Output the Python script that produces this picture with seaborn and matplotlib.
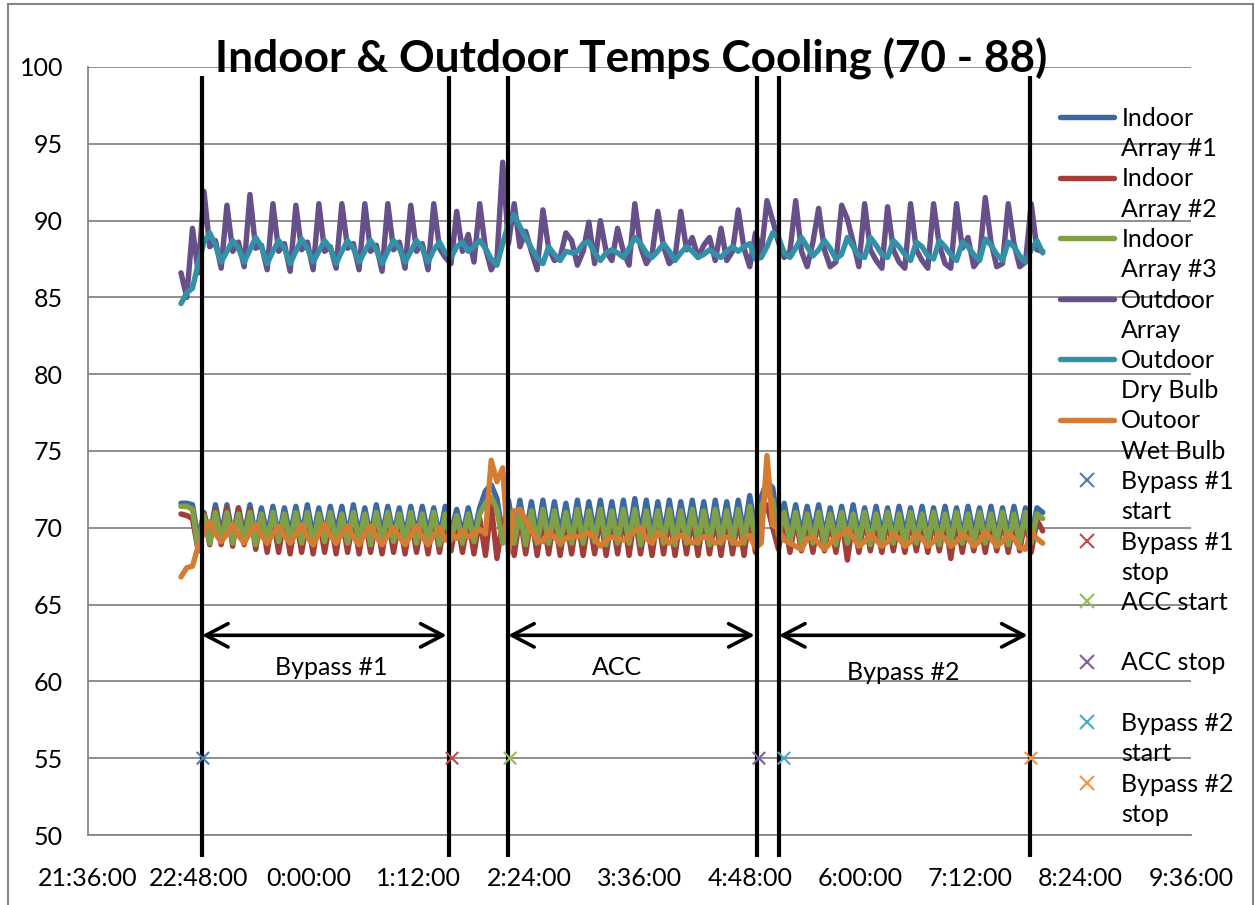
import numpy as np
import pandas as pd
import seaborn as sns
import matplotlib.pyplot as plt
from matplotlib.lines import Line2D
from matplotlib.patches import Rectangle

# readings every 3 min 45 s starting 22:36:42 (minutes after midnight, day 1)
start_min = 22 * 60 + 36.7
step_min = 3.75
n_points = 151
minutes = start_min + step_min * np.arange(n_points)

series_names = ["Indoor Array #1", "Indoor Array #2", "Indoor Array #3",
                "Outdoor Array", "Outdoor Dry Bulb", "Outoor Wet Bulb"]
series_colors = ["#3C69A4", "#A33D3A", "#7FA047", "#674F89", "#3391A7", "#D47D32"]

indoor_1 = [
    71.6, 71.6, 71.5, 69.2, 71.0, 69.4, 71.5, 69.5, 71.5, 69.4,
    71.3, 69.5, 71.5, 69.4, 71.3, 69.5, 71.4, 69.4, 71.3, 69.5,
    71.4, 69.5, 71.5, 69.4, 71.3, 69.5, 71.4, 69.6, 71.4, 69.4,
    71.5, 69.5, 71.3, 69.4, 71.5, 69.5, 71.4, 69.5, 71.3, 69.4,
    71.4, 69.5, 71.4, 69.6, 71.3, 69.4, 71.4, 69.7, 71.2, 69.5,
    71.3, 69.6, 71.3, 72.4, 72.8, 71.9, 69.5, 71.8, 69.6, 71.8,
    69.5, 71.7, 69.4, 71.8, 69.5, 71.7, 69.5, 71.6, 69.4, 71.8,
    69.5, 71.7, 69.6, 71.8, 69.5, 71.7, 69.4, 71.8, 69.5, 71.9,
    69.5, 71.8, 69.4, 71.7, 69.5, 71.8, 69.5, 71.7, 69.6, 71.8,
    69.5, 71.7, 69.4, 71.8, 69.5, 71.7, 69.5, 71.8, 69.6, 72.1,
    69.8, 72.0, 73.0, 72.6, 70.0, 71.6, 69.6, 71.5, 69.5, 71.4,
    69.6, 71.5, 69.4, 71.3, 69.5, 71.4, 69.5, 71.5, 69.4, 71.3,
    69.5, 71.4, 69.5, 71.3, 69.4, 71.4, 69.5, 71.3, 69.5, 71.4,
    69.4, 71.3, 69.5, 71.4, 69.5, 71.3, 69.4, 71.4, 69.5, 71.3,
    69.5, 71.4, 69.4, 71.3, 69.5, 71.4, 69.5, 71.3, 69.4, 71.3,
    71.0,
]
indoor_2 = [
    70.9, 70.8, 70.6, 68.5, 70.9, 68.9, 71.2, 68.9, 71.3, 68.8,
    71.3, 68.9, 71.2, 68.6, 70.8, 68.4, 70.7, 68.4, 70.6, 68.3,
    70.7, 68.4, 70.6, 68.3, 70.7, 68.4, 70.6, 68.3, 70.7, 68.4,
    70.6, 68.3, 70.7, 68.4, 70.6, 68.3, 70.7, 68.4, 70.6, 68.3,
    70.7, 68.4, 70.6, 68.3, 70.7, 68.4, 70.6, 68.5, 70.6, 68.4,
    70.6, 68.3, 70.6, 68.2, 71.5, 68.0, 70.4, 70.8, 68.2, 70.8,
    68.3, 70.8, 68.2, 70.7, 68.3, 70.8, 68.2, 70.7, 68.3, 70.8,
    68.2, 70.7, 68.3, 70.8, 68.2, 70.7, 68.3, 70.8, 68.2, 70.8,
    68.3, 70.7, 68.2, 70.8, 68.3, 70.7, 68.2, 70.8, 68.3, 70.7,
    68.2, 70.8, 68.3, 70.7, 68.2, 70.8, 68.3, 70.7, 68.2, 70.9,
    68.4, 70.9, 71.5, 70.0, 68.6, 70.6, 68.4, 70.6, 68.5, 70.5,
    68.4, 70.6, 68.5, 70.5, 68.4, 70.6, 67.9, 70.5, 68.4, 70.6,
    68.5, 70.5, 68.4, 70.6, 68.5, 70.5, 68.4, 70.6, 68.5, 70.5,
    68.4, 70.6, 68.5, 70.5, 68.0, 70.6, 68.4, 70.5, 68.5, 70.6,
    68.4, 70.5, 68.5, 70.6, 68.4, 70.5, 68.5, 70.6, 68.4, 70.5,
    69.8,
]
indoor_3 = [
    71.4, 71.4, 71.2, 68.6, 70.8, 69.0, 71.0, 69.1, 71.0, 69.0,
    70.9, 69.1, 71.0, 68.9, 70.9, 69.0, 71.0, 69.1, 70.9, 69.0,
    71.0, 69.0, 71.0, 68.9, 70.9, 69.1, 71.0, 69.0, 70.9, 69.0,
    71.0, 69.1, 70.9, 68.9, 71.0, 69.0, 71.0, 69.1, 70.9, 69.0,
    71.0, 69.0, 70.9, 69.1, 71.0, 68.9, 70.9, 69.2, 70.8, 69.0,
    70.9, 69.1, 70.9, 71.6, 72.0, 71.2, 69.0, 71.2, 69.0, 71.1,
    68.9, 71.1, 69.0, 71.2, 69.0, 71.1, 68.9, 71.0, 69.0, 71.2,
    69.0, 71.1, 69.1, 71.2, 68.9, 71.1, 69.0, 71.2, 69.0, 71.2,
    68.9, 71.1, 69.0, 71.1, 69.0, 71.2, 68.9, 71.1, 69.0, 71.2,
    69.0, 71.1, 68.9, 71.2, 69.0, 71.1, 69.0, 71.2, 69.0, 71.4,
    69.2, 71.4, 72.3, 71.8, 69.5, 71.0, 69.0, 71.0, 68.9, 70.9,
    69.0, 71.0, 69.0, 70.9, 68.9, 71.0, 69.0, 70.9, 69.0, 71.0,
    68.9, 70.9, 69.0, 71.0, 69.0, 70.9, 68.9, 71.0, 69.0, 70.9,
    69.0, 71.0, 68.9, 70.9, 69.0, 71.0, 69.0, 70.9, 68.9, 71.0,
    69.0, 70.9, 69.0, 71.0, 68.9, 70.9, 69.0, 71.0, 69.0, 70.9,
    70.6,
]
outdoor_array = [
    86.6, 85.0, 89.5, 86.6, 91.9, 88.3, 88.7, 86.9, 91.0, 88.0,
    88.6, 87.0, 91.7, 88.2, 88.4, 86.8, 91.1, 88.0, 88.5, 86.7,
    91.0, 88.1, 88.6, 86.8, 91.1, 88.0, 88.3, 86.9, 91.1, 88.2,
    88.5, 86.8, 91.1, 88.0, 88.4, 86.7, 91.1, 88.1, 88.6, 86.9,
    91.0, 88.0, 88.5, 86.8, 91.1, 88.2, 87.6, 87.2, 90.6, 88.0,
    89.1, 87.3, 91.1, 88.2, 86.8, 87.5, 93.8, 88.5, 91.1, 88.3,
    89.3, 88.0, 86.8, 90.7, 88.2, 87.4, 87.6, 89.2, 88.7, 87.1,
    88.0, 89.9, 87.2, 90.0, 88.0, 87.4, 89.5, 88.0, 87.1, 91.1,
    88.3, 87.2, 87.8, 90.6, 88.3, 87.2, 87.6, 90.6, 88.1, 88.9,
    87.6, 88.4, 88.9, 87.4, 89.5, 87.4, 88.0, 90.7, 88.2, 87.0,
    89.2, 87.8, 91.3, 90.0, 88.6, 87.6, 88.0, 91.3, 88.0, 87.0,
    88.6, 90.8, 88.1, 87.0, 87.3, 91.0, 90.1, 88.6, 87.0, 91.1,
    88.1, 87.4, 86.9, 90.9, 88.1, 87.3, 86.9, 91.1, 88.1, 87.4,
    86.9, 91.1, 88.4, 87.2, 86.9, 91.1, 88.2, 88.9, 87.0, 87.5,
    91.5, 88.6, 87.0, 87.2, 91.1, 88.5, 87.0, 87.3, 91.1, 88.1,
    88.0,
]
outdoor_dry = [
    84.6, 85.3, 85.6, 87.2, 88.6, 89.2, 88.4, 87.3, 88.0, 88.7,
    88.2, 87.3, 88.1, 88.9, 88.3, 87.2, 88.0, 88.7, 88.2, 87.2,
    88.0, 88.8, 88.2, 87.3, 88.0, 88.7, 88.2, 87.2, 88.0, 88.7,
    88.2, 87.3, 88.0, 88.7, 88.1, 87.2, 88.0, 88.7, 88.2, 87.3,
    88.0, 88.7, 88.2, 87.3, 88.1, 88.6, 87.9, 87.6, 88.3, 88.6,
    88.0, 88.3, 88.7, 88.2, 87.5, 87.1, 88.5, 89.8, 90.4, 89.6,
    88.9, 88.2, 87.6, 87.2, 88.3, 87.8, 87.4, 88.0, 87.9, 88.0,
    88.5, 88.6, 87.9, 87.4, 87.9, 88.1, 87.9, 87.6, 88.2, 88.9,
    88.5, 87.9, 87.6, 88.0, 88.5, 88.0, 87.4, 87.9, 88.3, 88.0,
    87.6, 87.8, 88.1, 87.8, 87.6, 88.0, 88.3, 88.0, 88.3, 88.5,
    87.5, 87.6, 88.3, 89.2, 88.9, 87.9, 87.6, 88.2, 88.9, 88.3,
    87.7, 88.1, 88.7, 88.2, 87.5, 87.8, 88.9, 88.3, 87.7, 87.6,
    88.9, 88.4, 87.8, 87.6, 88.7, 88.3, 87.8, 87.4, 88.6, 88.3,
    87.7, 87.5, 88.7, 88.3, 87.8, 87.4, 88.6, 88.3, 87.8, 87.4,
    88.8, 88.4, 87.8, 87.4, 88.6, 88.3, 87.7, 87.3, 88.1, 88.7,
    87.9,
]
outdoor_wet = [
    66.8, 67.4, 67.5, 68.8, 69.8, 70.4, 69.6, 69.1, 69.6, 70.2,
    69.5, 69.0, 69.7, 70.2, 69.5, 69.0, 69.6, 70.1, 69.5, 69.0,
    69.6, 70.2, 69.4, 68.9, 69.6, 70.2, 69.5, 69.0, 69.6, 70.1,
    69.4, 68.9, 69.6, 70.1, 69.4, 68.9, 69.5, 70.0, 69.4, 68.9,
    69.5, 70.1, 69.4, 68.9, 69.5, 70.0, 69.2, 69.6, 69.3, 69.8,
    69.4, 69.6, 69.9, 69.6, 74.4, 73.0, 73.9, 68.4, 71.1, 71.2,
    70.5, 69.8, 69.2, 69.1, 69.7, 69.4, 69.0, 69.3, 69.5, 69.4,
    69.5, 69.7, 69.3, 68.8, 69.2, 69.4, 69.3, 69.2, 69.4, 69.8,
    70.0, 69.3, 69.0, 69.7, 69.4, 69.0, 69.3, 69.5, 69.3, 69.0,
    69.2, 69.4, 69.3, 69.0, 69.2, 69.4, 69.2, 68.9, 69.3, 69.5,
    68.7, 69.0, 74.7, 70.2, 69.9, 69.2, 69.0, 68.8, 68.6, 69.3,
    69.4, 69.0, 68.6, 69.0, 69.4, 69.6, 69.9, 69.4, 68.8, 69.1,
    69.6, 69.2, 68.8, 69.1, 69.6, 69.3, 68.8, 69.1, 69.6, 69.3,
    68.8, 69.1, 69.6, 69.3, 68.8, 69.1, 69.6, 69.3, 68.8, 69.1,
    69.7, 69.3, 68.8, 69.1, 69.6, 69.3, 68.7, 68.6, 69.7, 69.3,
    69.0,
]

# test events (all plotted at 55)
event_names = ["Bypass #1 start", "Bypass #1 stop", "ACC start",
               "ACC stop", "Bypass #2 start", "Bypass #2 stop"]
event_times = ["22:51:00", "1:33:36", "2:11:30", "4:54:00", "5:10:18", "7:51:30"]
event_level = 55
event_colors = ["#4A7EBB", "#BE4B48", "#98B954", "#7D60A0", "#46AAC5", "#F69240"]

# drawn divider lines / arrows
divider_times = ["22:50:24", "1:31:36", "2:10:12", "4:52:42", "5:07:00", "7:50:54"]
period_names = ["Bypass #1", "ACC", "Bypass #2"]
period_label_times = ["0:15:00", "3:21:30", "6:28:00"]
period_label_levels = [60.9, 60.9, 60.55]

legend_text = [("Indoor", "Array #1"), ("Indoor", "Array #2"), ("Indoor", "Array #3"),
               ("Outdoor", "Array"), ("Outdoor", "Dry Bulb"), ("Outoor", "Wet Bulb"),
               ("Bypass #1", "start"), ("Bypass #1", "stop"), ("ACC start", ""),
               ("ACC stop", ""), ("Bypass #2", "start"), ("Bypass #2", "stop")]


def to_minutes(hms):
    parts = [int(v) for v in hms.split(":")]
    h, m = parts[0], parts[1]
    s = parts[2] if len(parts) > 2 else 0
    if h < 12:
        h += 24
    return h * 60 + m + s / 60


def fmt_time(m):
    m = int(round(m)) % 1440
    return f"{m // 60}:{m % 60:02d}:00"


df = pd.DataFrame({
    "time": np.tile(minutes, len(series_names)),
    "temp": np.concatenate([indoor_1, indoor_2, indoor_3,
                            outdoor_array, outdoor_dry, outdoor_wet]),
    "series": np.repeat(series_names, n_points),
})
events = pd.DataFrame({
    "time": [to_minutes(t) for t in event_times],
    "temp": [event_level] * len(event_names),
    "event": event_names,
})

sns.set_style("white")
plt.rcParams["font.family"] = ["Lato", "DejaVu Sans"]
plt.rcParams["text.color"] = "black"
grey = "#868686"
fs = 18

fig = plt.figure(figsize=(12.55, 9.05), dpi=100)
ax = fig.add_axes([88 / 1255, 1 - 835 / 905, (1191 - 88) / 1255, 768 / 905])

sns.lineplot(data=df, x="time", y="temp", hue="series", hue_order=series_names,
             palette=dict(zip(series_names, series_colors)), linewidth=3.9,
             estimator=None, sort=False, legend=False, ax=ax)
sns.scatterplot(data=events, x="time", y="temp", hue="event", hue_order=event_names,
                palette=dict(zip(event_names, event_colors)), marker="x", s=80,
                linewidth=1.5, legend=False, ax=ax, zorder=6)

# axes styling
ax.set_xlim(to_minutes("21:36"), to_minutes("9:36"))
ax.set_ylim(50, 100)
xt = np.arange(to_minutes("21:36"), to_minutes("9:36") + 1, 72)
ax.set_xticks(xt)
ax.set_xticklabels([fmt_time(t) for t in xt])
ax.set_yticks(np.arange(50, 101, 5))
ax.set_xlabel("")
ax.set_ylabel("")
ax.set_axisbelow(True)
ax.yaxis.grid(True, color=grey, lw=1.3)
ax.xaxis.grid(False)
for side in ["top", "right"]:
    ax.spines[side].set_visible(False)
for side in ["left", "bottom"]:
    ax.spines[side].set_color(grey)
    ax.spines[side].set_linewidth(1.3)
ax.tick_params(axis="both", direction="out", length=5, width=1.3, color=grey,
               labelsize=fs, labelcolor="black")
ax.tick_params(axis="y", pad=13)
ax.tick_params(axis="x", pad=18)

# divider lines, arrows and period labels
div = [to_minutes(t) for t in divider_times]
ax.vlines(div, 48.6, 99.4, colors="black", lw=3, clip_on=False, zorder=5)
for k, name in enumerate(period_names):
    ax.annotate("", xy=(div[2 * k + 1] - 1.5, 63.0), xytext=(div[2 * k], 63.0),
                arrowprops=dict(arrowstyle="<->,head_length=0.8,head_width=0.42",
                                lw=2.6, color="black", mutation_scale=20,
                                shrinkA=0, shrinkB=0), zorder=5)
    ax.text(to_minutes(period_label_times[k]), period_label_levels[k], name,
            ha="center", va="center", fontsize=fs)

# legend: two text rows per entry, handle on the first row
handles, labels = [], []
for k, (l1, l2) in enumerate(legend_text):
    if k < len(series_names):
        h = Line2D([], [], color=series_colors[k], lw=3.9)
    else:
        h = Line2D([], [], color=event_colors[k - len(series_names)], marker="x",
                   linestyle="none", markersize=10, markeredgewidth=1.5)
    handles += [h, Line2D([], [], linestyle="none")]
    labels += [l1, l2]
fig.legend(handles, labels, loc="upper left", bbox_to_anchor=(1060 / 1255, 1 - 107 / 905),
           frameon=False, fontsize=fs, borderpad=0, borderaxespad=0,
           handlelength=2.15, handletextpad=0.3, labelspacing=0.29)

fig.text(631 / 1255, 1 - 72 / 905, "Indoor & Outdoor Temps Cooling (70 - 88)",
         ha="center", va="baseline", fontsize=31.8, fontweight="bold", color="black")

fig.add_artist(Rectangle((8 / 1255, -0.05), 1245 / 1255, 1.05 - 4 / 905,
                         transform=fig.transFigure, fill=False, ec=grey, lw=1.5))

fig.savefig("out.png", dpi=100)
